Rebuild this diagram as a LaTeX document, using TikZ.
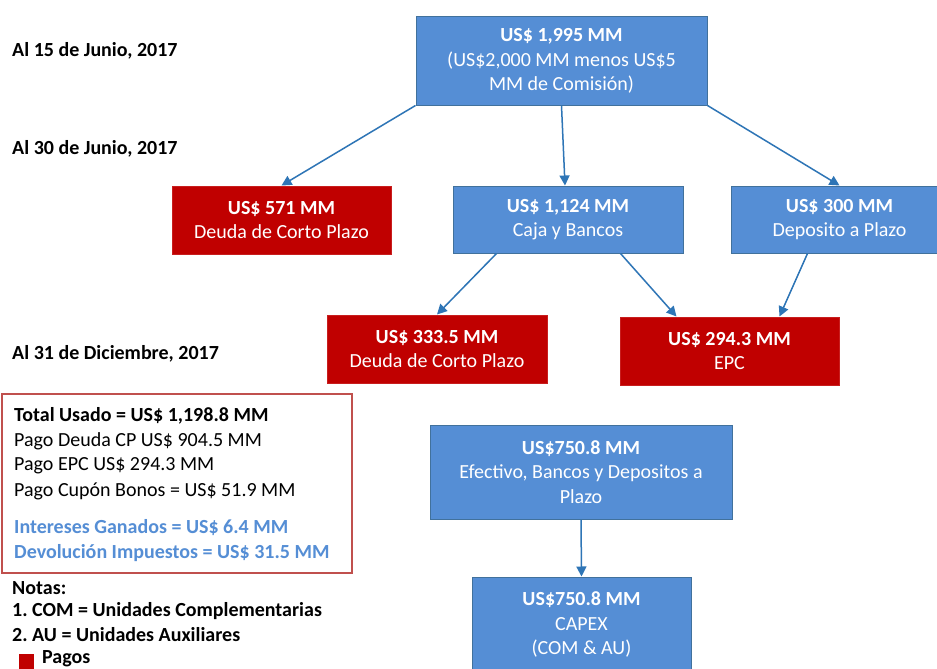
\documentclass[tikz,border=0pt]{standalone}
\usepackage{fontspec}
\setmainfont{Carlito}
\usetikzlibrary{arrows.meta,calc}
\definecolor{bfill}{RGB}{85,142,213}
\definecolor{bdraw}{RGB}{65,113,156}
\definecolor{rfill}{RGB}{192,0,0}
\definecolor{rdraw}{RGB}{200,30,30}
\definecolor{arrc}{RGB}{46,117,182}
\definecolor{outl}{RGB}{192,80,77}
\definecolor{btext}{RGB}{85,142,213}
\frenchspacing
\begin{document}
\begin{tikzpicture}[x=1pt,y=-1pt,
  txt/.style={font=\fontsize{20}{24.5}\selectfont},
  box/.style={line width=1pt, text=white, align=center, inner sep=0pt, txt},
  bluebox/.style={box, draw=bdraw, fill=bfill},
  redbox/.style={box, draw=rdraw, fill=rfill},
  arr/.style={draw=arrc, line width=1.5pt, -{Triangle[length=10pt,width=10pt]}},
  lbl/.style={anchor=west, inner sep=0pt, font=\fontsize{20}{24}\selectfont\bfseries},
  sumtxt/.style={anchor=west, inner sep=0pt, font=\fontsize{20}{24}\selectfont}]
\useasboundingbox (0,0) rectangle (937,669);
\fill[white] (0,0) rectangle (937,669);

% date labels
\node[lbl] (l1) at (12,51) {Al 15 de Junio, 2017};
\node[lbl] (l2) at (12,149) {Al 30 de Junio, 2017};
\node[lbl] (l3) at (12,354) {Al 31 de Diciembre, 2017};

% boxes
\node[bluebox, minimum width=291pt, minimum height=88pt] (top) at (561.5,61)
  {\textbf{US\$ 1,995 MM}\\(US\$2,000 MM menos US\$5\\MM de Comisión)};
\node[redbox, minimum width=219pt, minimum height=68pt] (d1) at (281.5,220)
  {\textbf{US\$ 571 MM}\\Deuda de Corto Plazo};
\node[bluebox, minimum width=230pt, minimum height=67pt] (cb) at (568,219.5)
  {\textbf{US\$ 1,124 MM}\\Caja y Bancos};
\node[bluebox, minimum width=217pt, minimum height=67pt] (dp) at (839.5,219.5)
  {\textbf{US\$ 300 MM}\\Deposito a Plazo};
\node[redbox, minimum width=220pt, minimum height=68pt] (d2) at (437,349)
  {\textbf{US\$ 333.5 MM}\\Deuda de Corto Plazo};
\node[redbox, minimum width=219pt, minimum height=68pt] (epc) at (729.5,351)
  {\textbf{US\$ 294.3 MM}\\EPC};
\node[bluebox, minimum width=302pt, minimum height=94pt] (ef) at (581,472)
  {\textbf{US\$750.8 MM}\\Efectivo, Bancos y Depositos a\\Plazo};
\node[bluebox, minimum width=219pt, minimum height=95pt] (cap) at (581.5,624.5)
  {\textbf{US\$750.8 MM}\\CAPEX\\(COM \& AU)};

% arrows
\draw[arr] (top.south west) -- (d1.north);
\draw[arr] (top.south) -- ($(cb.north)+(-3,0)$);
\draw[arr] (top.south east) -- (dp.north);
\draw[arr] ($(cb.south west)+(44,0)$) -- (d2.north);
\draw[arr] ($(cb.south west)+(168,0)$) -- ($(epc.north west)+(57,0)$);
\draw[arr] ($(dp.south west)+(77,0)$) -- ($(epc.north west)+(160,0)$);
\draw[arr] (ef.south) -- (cap.north);

% summary box
\node[draw=outl, line width=1.5pt, minimum width=350pt, minimum height=179pt, inner sep=0pt] (sum) at (177,483.5) {};
\node[sumtxt, font=\fontsize{20}{24}\selectfont\bfseries] (s1) at (14,416) {Total Usado = US\$ 1,198.8 MM};
\node[sumtxt] (s2) at (14,441) {Pago Deuda CP US\$ 904.5 MM};
\node[sumtxt] (s3) at (14,466) {Pago EPC US\$ 294.3 MM};
\node[sumtxt] (s4) at (14,491) {Pago Cupón Bonos = US\$ 51.9 MM};
\node[sumtxt, text=btext, font=\fontsize{20}{24}\selectfont\bfseries] (s5) at (14,528) {Intereses Ganados = US\$ 6.4 MM};
\node[sumtxt, text=btext, font=\fontsize{20}{24}\selectfont\bfseries] (s6) at (14,553) {Devolución Impuestos = US\$ 31.5 MM};

% notes
\node[lbl] (n1) at (12,588) {Notas:};
\node[lbl] (n2) at (12,611) {1. COM = Unidades Complementarias};
\node[lbl] (n3) at (12,635) {2. AU = Unidades Auxiliares};
\node[fill=rfill, minimum size=15pt, inner sep=0pt] (leg) at (26,661) {};
\node[lbl] (pagos) at (42,659) {Pagos};
\end{tikzpicture}
\end{document}
